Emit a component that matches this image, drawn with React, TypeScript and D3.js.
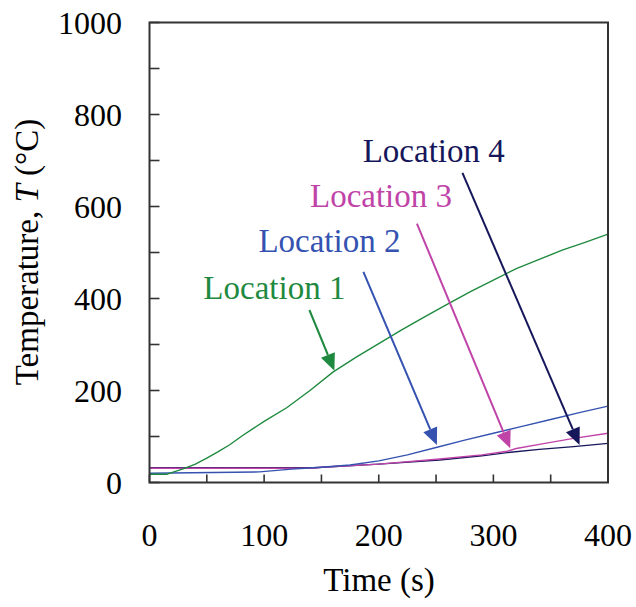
import React from "react";
import * as d3 from "d3";

// ---- data (time in s, temperature in °C) ----
const loc1Time = [0, 15, 20, 30, 40, 50, 60, 70, 80, 100, 120, 140, 160, 180, 200, 220, 240, 260, 280, 300, 320, 340, 360, 380, 400];
const loc1Temp = [18, 18, 22, 30, 40, 53, 67, 82, 100, 133, 163, 200, 240, 272, 302, 332, 360, 388, 415, 440, 465, 485, 505, 522, 540];

const loc2Time = [0, 96, 124, 143, 150, 175, 200, 225, 250, 275, 300, 325, 350, 375, 400];
const loc2Temp = [20, 23, 29, 32, 33, 38, 47, 60, 76, 92, 107, 122, 137, 152, 166];

const loc3Time = [0, 143, 150, 200, 253, 290, 312, 320, 345, 370, 400];
const loc3Temp = [31, 31, 33, 40, 51, 60, 68, 74, 85, 96, 107];

const loc4Time = [0, 143, 200, 253, 290, 312, 340, 370, 400];
const loc4Temp = [32, 32, 40, 49, 58, 65, 72, 78, 85];

const seriesNames = ["Location 1", "Location 2", "Location 3", "Location 4"];
const seriesColors = ["#1f8a3f", "#3552b0", "#c044a8", "#16165a"];

// annotation anchors in data units: label position, arrow tail, arrow tip
const labelTime = [47, 95, 140, 186];
const labelTemp = [400, 502, 598, 697];
const tailTime = [139.5, 186.6, 233.3, 273];
const tailTemp = [375, 458, 563, 673];
const tipTime = [161.3, 250.7, 314.7, 375.2];
const tipTemp = [243, 81.5, 74.3, 81.5];

const xTicks = [0, 100, 200, 300, 400];
const xMinorTicks = [0, 50, 100, 150, 200, 250, 300, 350, 400];
const yTicks = [0, 200, 400, 600, 800, 1000];
const yMinorTicks = [0, 100, 200, 300, 400, 500, 600, 700, 800, 900, 1000];

const W = 636;
const H = 607;
const M = { left: 149.5, right: 608, top: 22.5, bottom: 482.5 };
const FONT = "'Liberation Serif', 'Times New Roman', Times, serif";
const tStyle = { fontFamily: FONT };

export default function App() {
  const x = d3.scaleLinear().domain([0, 400]).range([M.left, M.right]);
  const y = d3.scaleLinear().domain([0, 1000]).range([M.bottom, M.top]);

  const line = d3
    .line<[number, number]>()
    .x((d) => x(d[0]))
    .y((d) => y(d[1]));

  const series: [number, number][][] = [
    loc1Time.map((t, i) => [t, loc1Temp[i]]),
    loc2Time.map((t, i) => [t, loc2Temp[i]]),
    loc3Time.map((t, i) => [t, loc3Temp[i]]),
    loc4Time.map((t, i) => [t, loc4Temp[i]]),
  ];
  const order = [3, 2, 1, 0];

  const arrow = (i: number) => {
    const x0 = x(tailTime[i]);
    const y0 = y(tailTemp[i]);
    const x1 = x(tipTime[i]);
    const y1 = y(tipTemp[i]);
    const dx = x1 - x0;
    const dy = y1 - y0;
    const len = Math.hypot(dx, dy);
    const ux = dx / len;
    const uy = dy / len;
    const headL = 17;
    const headW = 7.5;
    const bx = x1 - ux * headL;
    const by = y1 - uy * headL;
    const px = -uy;
    const py = ux;
    const pts = `${x1},${y1} ${bx + px * headW},${by + py * headW} ${bx - px * headW},${by - py * headW}`;
    return (
      <g key={"a" + i}>
        <line x1={x0} y1={y0} x2={bx} y2={by} stroke={seriesColors[i]} strokeWidth={2} />
        <polygon points={pts} fill={seriesColors[i]} />
      </g>
    );
  };

  return (
    <svg
      width={W}
      height={H}
      style={{ position: "absolute", left: 0, top: 0, background: "#fff", fontFamily: FONT }}
    >
      <rect x={0} y={0} width={W} height={H} fill="#fff" />

      {order.map((i) => (
        <path
          key={"s" + i}
          d={line(series[i]) || ""}
          fill="none"
          stroke={seriesColors[i]}
          strokeWidth={1.4}
        />
      ))}

      {[0, 1, 2, 3].map((i) => arrow(i))}

      {seriesNames.map((n, i) => (
        <text key={"l" + i} x={x(labelTime[i])} y={y(labelTemp[i])} fontSize={33} fill={seriesColors[i]} style={tStyle}>
          {n}
        </text>
      ))}

      <rect
        x={M.left}
        y={M.top}
        width={M.right - M.left}
        height={M.bottom - M.top}
        fill="none"
        stroke="#333"
        strokeWidth={2}
      />

      {yMinorTicks.map((v) => (
        <line key={"yt" + v} x1={M.left} x2={M.left + 10} y1={y(v)} y2={y(v)} stroke="#333" strokeWidth={1.6} />
      ))}
      {yTicks.map((v) => (
        <text key={"yl" + v} x={122} y={y(v) + 11} fontSize={32} textAnchor="end" fill="#000" style={tStyle}>
          {v}
        </text>
      ))}

      {xMinorTicks.map((v) => (
        <line key={"xt" + v} x1={x(v)} x2={x(v)} y1={M.bottom} y2={M.bottom - 8} stroke="#333" strokeWidth={1.6} />
      ))}
      {xTicks.map((v) => (
        <text key={"xl" + v} x={x(v)} y={546} fontSize={32} textAnchor="middle" fill="#000" style={tStyle}>
          {v}
        </text>
      ))}

      <text x={379} y={591} fontSize={33} textAnchor="middle" fill="#000" style={tStyle}>
        Time (s)
      </text>
      <text
        transform={`translate(38, ${252}) rotate(-90)`}
        fontSize={33}
        textAnchor="middle"
        fill="#000"
        style={tStyle}
      >
        Temperature, <tspan fontStyle="italic">T</tspan> (°C)
      </text>
    </svg>
  );
}
